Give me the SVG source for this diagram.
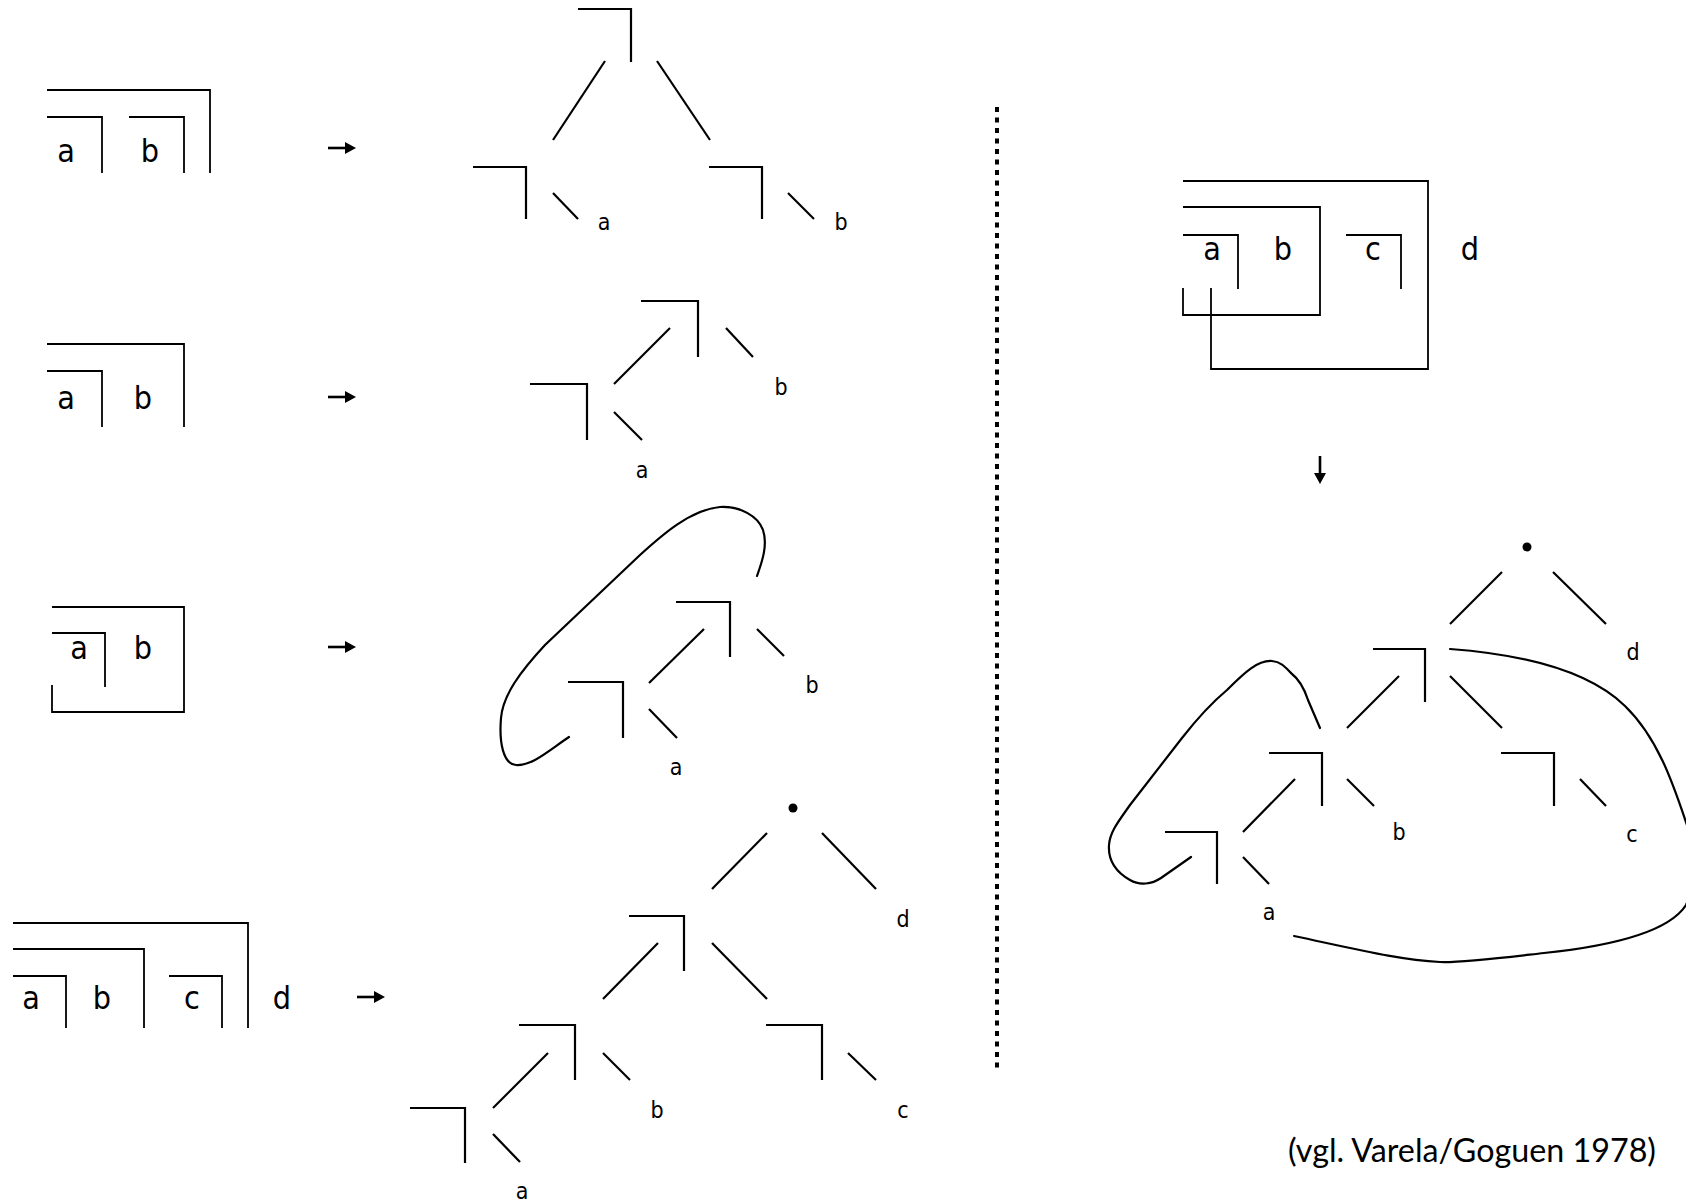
<svg xmlns="http://www.w3.org/2000/svg" width="1686" height="1203" viewBox="0 0 1686 1203">
<defs>
<style>
.bx{fill:none;stroke:#000;stroke-width:1.8}
.ln{fill:none;stroke:#000;stroke-width:2.2}
.cv{fill:none;stroke:#000;stroke-width:2.2;stroke-linecap:round}
.big{font-family:"Liberation Sans Narrow","DejaVu Sans Condensed","Liberation Sans",sans-serif;font-stretch:condensed;font-size:32px;text-anchor:middle;fill:#000}
.sm{font-family:"Liberation Sans Narrow","DejaVu Sans Condensed","Liberation Sans",sans-serif;font-stretch:condensed;font-size:23px;text-anchor:middle;fill:#000}
.cite{font-family:Lato,"Liberation Sans",sans-serif;font-size:33px;text-anchor:end;fill:#000}
.arr{fill:none;stroke:#000;stroke-width:2.6}
.ah{fill:#000}
</style>
</defs>

<g id="row1-boxes">
<path class="bx" d="M47,90 H210 V173"/>
<path class="bx" d="M47,117 H102 V173"/>
<path class="bx" d="M129,117 H184 V173"/>
<text class="big" x="66" y="162">a</text>
<text class="big" x="150" y="162">b</text>
</g>
<g id="row2-boxes">
<path class="bx" d="M47,344 H184 V427"/>
<path class="bx" d="M47,371 H102 V427"/>
<text class="big" x="66" y="409">a</text>
<text class="big" x="143" y="409">b</text>
</g>
<g id="row3-boxes">
<path class="bx" d="M52,685 V712 H184 V607 H52"/>
<path class="bx" d="M52,633 H105 V687"/>
<text class="big" x="79" y="659">a</text>
<text class="big" x="143" y="659">b</text>
</g>
<g id="row4-boxes">
<path class="bx" d="M13,923 H248 V1028"/>
<path class="bx" d="M13,949 H144 V1028"/>
<path class="bx" d="M13,976 H66 V1028"/>
<path class="bx" d="M169,976 H222 V1028"/>
<text class="big" x="31" y="1009">a</text>
<text class="big" x="102" y="1009">b</text>
<text class="big" x="192" y="1009">c</text>
<text class="big" x="282" y="1009">d</text>
</g>

<g id="arrows">
<path class="arr" d="M328,148 H348"/><path class="ah" d="M345,142 L356,148 L345,154 Z"/>
<path class="arr" d="M328,397 H348"/><path class="ah" d="M345,391 L356,397 L345,403 Z"/>
<path class="arr" d="M328,647 H348"/><path class="ah" d="M345,641 L356,647 L345,653 Z"/>
<path class="arr" d="M357,997 H377"/><path class="ah" d="M374,991 L385,997 L374,1003 Z"/>
<path class="arr" d="M1320,456 V476"/><path class="ah" d="M1314,473 L1320,484 L1326,473 Z"/>
</g>

<g id="tree1">
<g id="t1-root"><path class="ln" d="M578,9 H631 V62"/></g>
<g id="t1-left"><path class="ln" d="M473,167 H526 V219"/><path class="ln" d="M553,193 L578,219"/><text class="sm" x="604" y="230">a</text></g>
<g id="t1-right"><path class="ln" d="M709,167 H762 V219"/><path class="ln" d="M788,193 L814,219"/><text class="sm" x="841" y="230">b</text></g>
</g>
<g id="tree2">
<g id="t2-top"><path class="ln" d="M641,301 H698 V357"/><path class="ln" d="M726,328 L753,357"/><text class="sm" x="781" y="395">b</text></g>
<g id="t2-left"><path class="ln" d="M530,384 H587 V440"/><path class="ln" d="M614,412 L642,440"/><text class="sm" x="642" y="478">a</text></g>
</g>
<g id="tree3">
<g id="t3-top"><path class="ln" d="M676,602 H730 V657"/><path class="ln" d="M757,629 L784,656"/><text class="sm" x="812" y="693">b</text></g>
<g id="t3-left"><path class="ln" d="M568,682 H623 V738"/><path class="ln" d="M649,709 L677,738"/><text class="sm" x="676" y="775">a</text></g>
</g>
<g id="tree4">
<g id="t4-root"><circle cx="793" cy="808" r="4.5" fill="#000"/></g>
<g id="t4-d"><text class="sm" x="903" y="927">d</text></g>
<g id="t4-n2"><path class="ln" d="M629,916 H684 V971"/></g>
<g id="t4-nb"><path class="ln" d="M519,1025 H575 V1080"/><path class="ln" d="M603,1053 L630,1080"/><text class="sm" x="657" y="1118">b</text></g>
<g id="t4-na"><path class="ln" d="M410,1108 H465 V1163"/><path class="ln" d="M493,1134 L520,1162"/><text class="sm" x="522" y="1199">a</text></g>
<g id="t4-nc"><path class="ln" d="M766,1025 H822 V1080"/><path class="ln" d="M848,1053 L876,1080"/><text class="sm" x="903" y="1118">c</text></g>
</g>

<g id="right-boxes">
<path class="bx" d="M1211,288 V369 H1428 V181 H1183"/>
<path class="bx" d="M1183,288 V315 H1320 V207 H1183"/>
<path class="bx" d="M1183,235 H1238 V289"/>
<path class="bx" d="M1346,235 H1401 V289"/>
<text class="big" x="1212" y="260">a</text>
<text class="big" x="1283" y="260">b</text>
<text class="big" x="1373" y="260">c</text>
<text class="big" x="1470" y="260">d</text>
</g>

<g id="right-tree">
<g id="rt-root"><circle cx="1527" cy="547" r="4.5" fill="#000"/></g>
<g id="rt-d"><text class="sm" x="1633" y="660">d</text></g>
<g id="rt-n2"><path class="ln" d="M1373,649 H1425 V702"/></g>
<g id="rt-nb"><path class="ln" d="M1269,753 H1322 V806"/><path class="ln" d="M1347,779 L1374,806"/><text class="sm" x="1399" y="840">b</text></g>
<g id="rt-na"><path class="ln" d="M1165,832 H1217 V884"/><path class="ln" d="M1243,857 L1269,884"/><text class="sm" x="1269" y="920">a</text></g>
<g id="rt-nc"><path class="ln" d="M1501,753 H1554 V806"/><path class="ln" d="M1580,779 L1606,806"/><text class="sm" x="1632" y="842">c</text></g>
</g>

<g id="connectors">
<path class="ln" d="M605,61 L553,140"/>
<path class="ln" d="M657,61 L710,140"/>
<path class="ln" d="M670,328 L614,384"/>
<path class="ln" d="M704,629 L649,683"/>
<path class="cv" d="M569,737 C548,751 532,766 516,765 C503,764 499,742 501,718 C503,695 520,672 545,645 L640,555 C662,535 690,510 720,507 C740,506 758,516 763,530 C768,545 762,562 757,576"/>
<path class="ln" d="M767,833 L712,889"/>
<path class="ln" d="M822,833 L876,889"/>
<path class="ln" d="M658,943 L603,999"/>
<path class="ln" d="M712,943 L767,999"/>
<path class="ln" d="M548,1053 L493,1108"/>
<path class="ln" d="M1502,572 L1450,624"/>
<path class="ln" d="M1553,572 L1606,624"/>
<path class="ln" d="M1399,676 L1347,728"/>
<path class="ln" d="M1450,676 L1502,728"/>
<path class="ln" d="M1295,779 L1243,832"/>
<path class="cv" d="M1191,857 L1161,878 C1152,884 1140,886 1130,880 C1116,872 1108,860 1109,845 C1110,832 1118,822 1130,805 L1182,738 C1200,715 1215,700 1227,690 C1245,672 1258,660 1272,661 C1282,662 1286,668 1292,674 C1300,680 1304,688 1308,700 L1320,728"/>
<path class="cv" d="M1450,649 C1530,655 1590,672 1625,706 C1660,740 1675,790 1688,828 C1695,850 1698,880 1686,905 C1670,930 1620,945 1544,953 C1500,958 1460,963 1440,962 C1400,960 1360,950 1294,936"/>
</g>

<g id="divider">
<path d="M997,107 V1072" fill="none" stroke="#000" stroke-width="4" stroke-dasharray="5 5.5"/>
</g>

<g id="citation">
<text class="cite" x="1656" y="1162" textLength="368" lengthAdjust="spacingAndGlyphs">(vgl. Varela/Goguen 1978)</text>
</g>
</svg>
